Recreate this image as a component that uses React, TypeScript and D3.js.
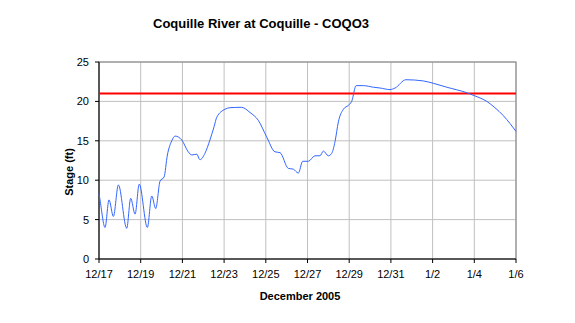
import React from "react";
import * as d3 from "d3";

// days since 12/17/2005 and stage readings (ft)
const dayOffsets = [
  0, 0.06, 0.29, 0.48, 0.69, 0.93, 1.33, 1.52, 1.73, 1.93, 2.32, 2.53, 2.72, 2.93,
  3.12, 3.28, 3.49, 3.65, 3.97, 4.28, 4.45, 4.69, 4.84, 5.08, 5.32, 5.52, 5.65,
  6.04, 6.28, 6.84, 7.24, 7.64, 8.04, 8.44, 8.68, 9.08, 9.32, 9.56, 9.77, 10.04,
  10.36, 10.6, 10.76, 11.0, 11.16, 11.32, 11.48, 11.72, 11.96, 12.12, 12.33, 12.68,
  13.16, 13.48, 13.96, 14.2, 14.72, 15.55, 16.03, 16.68, 17.64, 18.03, 18.6, 18.99,
  19.39, 19.71, 20.0,
];
const stage = [
  8.3, 7.3, 4.0, 7.5, 5.4, 9.4, 3.9, 7.7, 5.7, 9.5, 4.0, 8.0, 6.4, 9.9,
  10.4, 13.2, 15.0, 15.6, 15.1, 13.6, 13.2, 13.3, 12.6, 13.4, 15.1, 16.8, 18.0,
  19.0, 19.2, 19.25, 18.6, 17.6, 15.5, 13.6, 13.5, 11.5, 11.4, 10.9, 12.4, 12.4,
  13.1, 13.1, 13.7, 13.1, 13.4, 14.9, 17.4, 19.0, 19.5, 20.0, 22.0, 22.0,
  21.8, 21.7, 21.5, 21.7, 22.75, 22.6, 22.3, 21.8, 21.1, 20.7, 20.0, 19.2,
  18.2, 17.2, 16.2,
];
const floodStage = 21;
const yTicks = [0, 5, 10, 15, 20, 25];
const xTickLabels = ["12/17", "12/19", "12/21", "12/23", "12/25", "12/27", "12/29", "12/31", "1/2", "1/4", "1/6"];

const W = 575;
const H = 323;
const left = 99;
const right = 516;
const top = 62;
const bottom = 259;

export default function App() {
  const start = new Date(2005, 11, 17);
  const dayMs = 86400000;
  const end = new Date(start.getTime() + 20 * dayMs);

  const x = d3.scaleTime().domain([start, end]).range([left, right]);
  const y = d3.scaleLinear().domain([0, 25]).range([bottom, top]);

  const pts: [Date, number][] = dayOffsets.map((d, i) => [new Date(start.getTime() + d * dayMs), stage[i]]);
  const line = d3
    .line<[Date, number]>()
    .x((d) => x(d[0]))
    .y((d) => y(d[1]))
    .curve(d3.curveMonotoneX);

  const xTicks = xTickLabels.map((lab, i) => ({ lab, date: new Date(start.getTime() + i * 2 * dayMs) }));

  const font = "'Liberation Sans', Arial, sans-serif";

  return (
    <svg width={W} height={H} style={{ position: "absolute", left: 0, top: 0, background: "#fff" }} fontFamily={font}>
      <rect x={0} y={0} width={W} height={H} fill="#fff" />
      <text x={261} y={28} textAnchor="middle" fontSize={13} fontWeight="bold">
        Coquille River at Coquille - COQO3
      </text>

      {/* grid */}
      {yTicks.map((t) => (
        <line key={"gy" + t} x1={left} x2={right} y1={y(t)} y2={y(t)} stroke="#c0c0c0" strokeWidth={1} />
      ))}
      {xTicks.map((t) => (
        <line key={"gx" + t.lab} x1={x(t.date)} x2={x(t.date)} y1={top} y2={bottom} stroke="#c0c0c0" strokeWidth={1} />
      ))}
      <rect x={left} y={top} width={right - left} height={bottom - top} fill="none" stroke="#808080" strokeWidth={1} />

      {/* axes */}
      <line x1={left} x2={left} y1={top} y2={bottom} stroke="#000" />
      <line x1={left} x2={right} y1={bottom} y2={bottom} stroke="#000" />
      {yTicks.map((t) => (
        <g key={"ty" + t}>
          <line x1={left - 4} x2={left} y1={y(t)} y2={y(t)} stroke="#000" />
          <text x={left - 10} y={y(t) + 4} textAnchor="end" fontSize={11}>
            {t}
          </text>
        </g>
      ))}
      {xTicks.map((t) => (
        <g key={"tx" + t.lab}>
          <line x1={x(t.date)} x2={x(t.date)} y1={bottom} y2={bottom + 4} stroke="#000" />
          <text x={x(t.date)} y={278} textAnchor="middle" fontSize={11}>
            {t.lab}
          </text>
        </g>
      ))}

      <text x={300} y={300} textAnchor="middle" fontSize={11} fontWeight="bold">
        December 2005
      </text>
      <text transform="translate(73,172) rotate(-90)" textAnchor="middle" fontSize={11} fontWeight="bold">
        Stage (ft)
      </text>

      {/* flood stage */}
      <line x1={left} x2={right} y1={y(floodStage)} y2={y(floodStage)} stroke="#ff0000" strokeWidth={2} />

      <path d={line(pts) || ""} fill="none" stroke="#3366ff" strokeWidth={1} />
    </svg>
  );
}
